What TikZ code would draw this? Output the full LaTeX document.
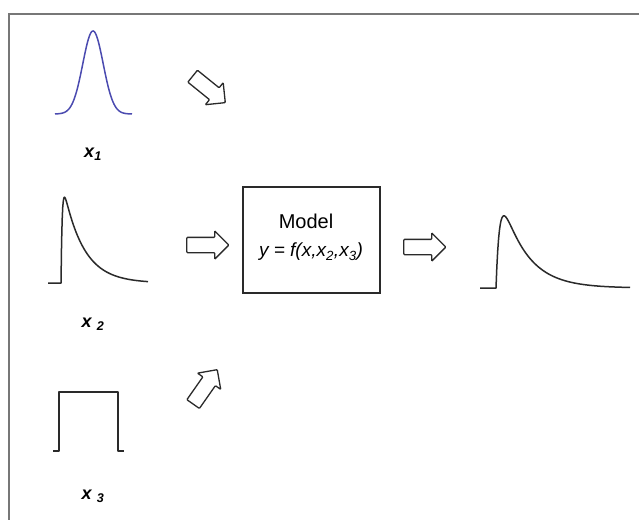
\documentclass[tikz,border=0pt]{standalone}
\usepackage{fontspec}
\setmainfont{Liberation Sans}
\usetikzlibrary{shapes.arrows}
\definecolor{framegray}{HTML}{777777}
\definecolor{ink}{HTML}{2A2A2A}
\definecolor{gaussblue}{HTML}{4B4BB0}
\tikzset{
  blockarrow/.style={single arrow, draw=ink, line width=1.3pt, fill=white,
    minimum height=42pt, inner sep=7pt, single arrow head extend=6.5pt,
    rounded corners=0.8pt},
  curve/.style={draw=ink, line width=1.5pt, line join=round},
  lbl/.style={text=black, font=\fontsize{18}{20}\selectfont\bfseries\itshape, inner sep=0pt},
  modelbox/.style={draw=ink, line width=1.4pt, minimum width=137pt, minimum height=106pt, inner sep=0pt},
  modeltxt/.style={text=black, font=\fontsize{20}{22}\selectfont, inner sep=0pt}
}
\begin{document}
\begin{tikzpicture}[x=1pt,y=-1pt]
\clip (0,0) rectangle (639,519);
\fill[white] (0,0) rectangle (639,519);
% outer frame (right and bottom out of view)
\draw[framegray, line width=2.6pt] (9,530) -- (9,14) -- (650,14);

% x1 : gaussian
\draw[gaussblue, line width=1.5pt] plot[domain=55:132, samples=120]
  (\x,{114-83*exp(-((\x-93)/14.4)*((\x-93)/14.4))});
\node[lbl] (lx1) at (93,154) {x\textsubscript{1}};

% x2 : skewed pulse
\draw[curve] (48,283) -- (61,283) -- plot[domain=0:87, samples=150]
  ({61+\x},{283-108*(1-exp(-\x/1.2))*exp(-\x/20)});
\node[lbl] (lx2) at (93,324) {x \textsubscript{2}};

% x3 : rectangular pulse
\draw[curve] (53,451) -- (59,451) -- (59,392) -- (118,392) -- (118,451) -- (124,451);
\node[lbl] (lx3) at (93,496) {x \textsubscript{3}};

% block arrows
\node[blockarrow, rotate=-39] (a1) at (206,87) {};
\node[blockarrow] (a2) at (204,245) {};
\node[blockarrow, rotate=55] (a3) at (203,390) {};
\node[blockarrow] (a4) at (421,247) {};

% model box
\node[modelbox] (model) at (311.5,240) {};
\node[modeltxt] (mt) at (306,221) {Model};
\node[modeltxt, font=\fontsize{19}{22}\selectfont\itshape] (eq) at (311,252)
  {y = f(x,x\textsubscript{2},x\textsubscript{3})};

% output pulse
\draw[curve] (480,288) -- (496,288) -- plot[domain=0:134, samples=160]
  ({496+\x},{288-115*(1-exp(-\x/4))*exp(-\x/25)});
\end{tikzpicture}
\end{document}
